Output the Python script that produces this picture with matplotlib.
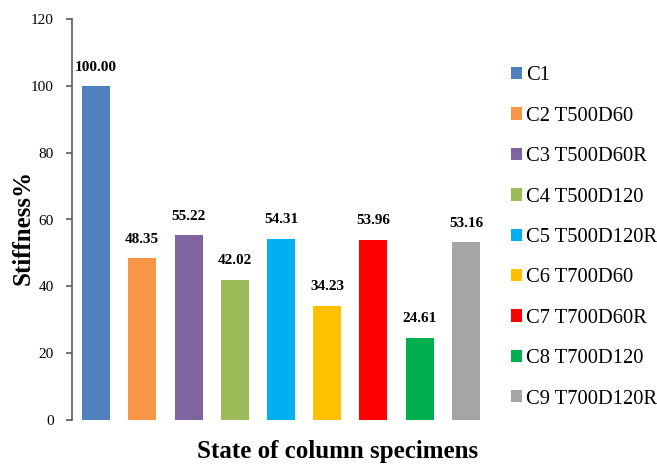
import numpy as np
import matplotlib.pyplot as plt

# data
labels = ['C1', 'C2 T500D60', 'C3 T500D60R', 'C4 T500D120', 'C5 T500D120R',
          'C6 T700D60', 'C7 T700D60R', 'C8 T700D120', 'C9 T700D120R']
stiffness = [100.00, 48.35, 55.22, 42.02, 54.31, 34.23, 53.96, 24.61, 53.16]
colors = ['#4F81BD', '#F79646', '#8064A2', '#9BBB59', '#00B0F0',
          '#FFC000', '#FF0000', '#00B050', '#A5A5A5']

plt.rcParams['font.family'] = ['Liberation Serif', 'DejaVu Serif']

fig = plt.figure(figsize=(6.57, 4.65), dpi=100)
ax = fig.add_axes([72 / 657, 45 / 465, 418 / 657, 401 / 465])

x = np.arange(len(stiffness))
bars = ax.bar(x, stiffness, width=0.606, color=colors, label=labels)

# value labels
for xi, v in zip(x, stiffness):
    ax.annotate('%.2f' % v, (xi, v), xytext=(0, 11), textcoords='offset points',
                ha='center', va='baseline', fontsize=11, fontweight='bold')

ax.set_xlim(-0.52, 8.52)
ax.set_ylim(0, 120)
ax.set_yticks(np.arange(0, 121, 20))
ax.set_xticks([])

for s in ['top', 'right', 'bottom']:
    ax.spines[s].set_visible(False)
ax.spines['left'].set_color('#595959')
ax.spines['left'].set_linewidth(1.2)
ax.tick_params(axis='y', direction='out', length=4, width=1.2, color='#595959',
               labelsize=11, pad=9)

fig.text(23 / 657, 1 - 227 / 465, 'Stiffness%', rotation=90, fontsize=18,
         fontweight='bold', ha='center', va='center')
fig.text(338 / 657, 14 / 465, 'State of column specimens', fontsize=18,
         fontweight='bold', ha='center', va='center')

leg = fig.legend(handles=list(bars), labels=labels, loc='upper left',
                 bbox_to_anchor=(492 / 657, 1 - 48 / 465), frameon=False,
                 fontsize=14.8, handlelength=0.55, handleheight=0.55,
                 handletextpad=0.2, labelspacing=1.04)

fig.savefig('out.png', dpi=100)
